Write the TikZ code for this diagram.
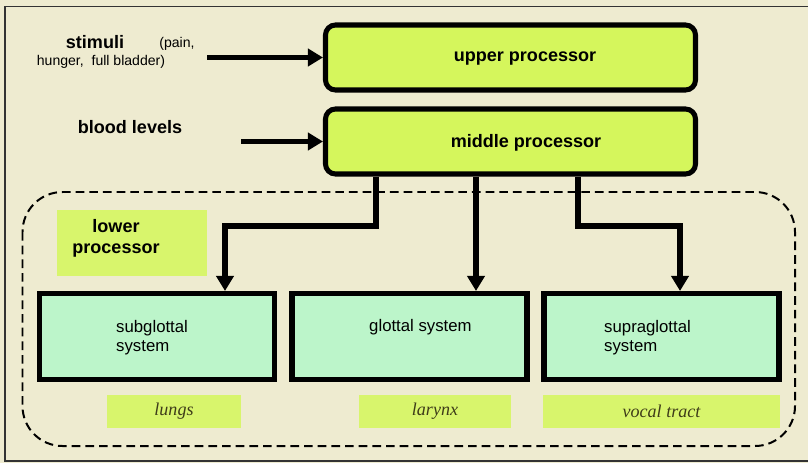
\documentclass[tikz,border=0pt]{standalone}
\usepackage{fontspec}
\setmainfont{Liberation Sans}
\newfontfamily\tagserif{Liberation Serif}
\usetikzlibrary{arrows.meta}

\definecolor{paper}{RGB}{238,235,208}
\definecolor{procgreen}{RGB}{213,246,92}
\definecolor{tagyellow}{RGB}{216,245,108}
\definecolor{systemmint}{RGB}{188,245,202}
\definecolor{tagtext}{RGB}{62,60,25}

\tikzset{
  proc/.style={draw=black, line width=4.3pt, fill=procgreen, rounded corners=3mm,
    minimum width=111mm, minimum height=19.5mm},
  system/.style={draw=black, line width=4.3pt, fill=systemmint,
    minimum width=70.5mm, minimum height=25.8mm},
  tag/.style={fill=tagyellow, inner sep=0pt, minimum height=9.9mm, text=tagtext,
    font=\tagserif\itshape\fontsize{15.4}{18}\selectfont},
  heading/.style={font=\fontsize{15.4}{18}\selectfont\bfseries, align=center},
  note/.style={font=\fontsize{12}{14}\selectfont},
  systxt/.style={font=\fontsize{14.3}{16.2}\selectfont, align=left, anchor=west,
    inner sep=0pt},
  arr/.style={line width=4.5pt, -{Triangle[length=4.5mm, width=5.1mm]}},
}

\begin{document}
\begin{tikzpicture}[x=0.3mm, y=-0.3mm]
  \fill[paper] (0,0) rectangle (808,463);
  \useasboundingbox (0,0) rectangle (808,463);

  % Frame, open on the right
  \draw[line width=1.6pt, black!80] (808,6.5) -| (5,461) -- (808,461);

  % Lower processor region
  \draw[line width=1.7pt, dash pattern=on 2.6mm off 1.5mm, rounded corners=12mm]
    (22.5,192) rectangle (795,446);

  % Inputs
  \node[heading] (stimuli) at (95,42) {stimuli};
  \node[note] (pain) at (177,44) {(pain,};
  \node[note] (hunger) at (101,62) {hunger,\ \ full bladder)};
  \node[heading] (blood) at (130,127) {blood levels};
  \coordinate (stimin) at (207,57.5);
  \coordinate (bloodin) at (241,141.5);

  % Upper and middle processors
  \node[proc] (upper) at (510.5,57.5) {};
  \node[proc] (middle) at (510.5,141.5) {};
  \node[heading] (uppertxt) at (525,59) {upper processor};
  \node[heading] (middletxt) at (526,143) {middle processor};
  \draw[arr] (stimin) -- (upper.west);
  \draw[arr] (bloodin) -- (middle.west);

  % Lower processor tag
  \node[fill=tagyellow, minimum width=45mm, minimum height=19.8mm] (lowtag) at (132,243) {};
  \node[heading] (lowtxt) at (116,238) {lower\\processor};

  % Systems
  \node[system] (sub) at (157,336.5) {};
  \node[system] (glot) at (409.5,336.5) {};
  \node[system] (supra) at (661.5,336.5) {};
  \node[systxt] (subtxt) at (116,337.5) {subglottal\\system};
  \node[systxt] (glottxt) at (369,327.5) {glottal system};
  \node[systxt] (supratxt) at (604,337.5) {supraglottal\\system};

  % Organs
  \node[tag, minimum width=40.2mm] (lungs) at (174,411.5) {lungs};
  \node[tag, minimum width=45.6mm] (larynx) at (435,411.5) {larynx};
  \node[tag, minimum width=71.1mm] (tract) at (661.5,411.5) {vocal tract};

  % Branches down from the middle processor
  \draw[arr] (middle.south -| 376,0) |- (225,226) -- (sub.north -| 225,0);
  \draw[arr] (middle.south -| 476,0) -- (glot.north -| 476,0);
  \draw[arr] (middle.south -| 578,0) |- (680,226) -- (supra.north -| 680,0);
\end{tikzpicture}
\end{document}
